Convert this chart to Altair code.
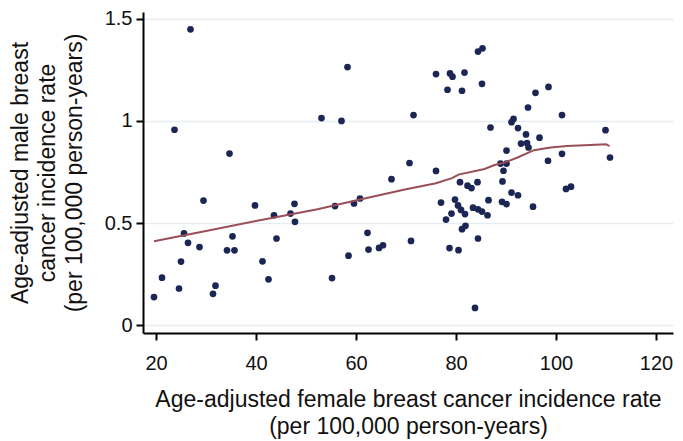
import altair as alt
import pandas as pd

female_rate = [26.9, 23.7, 34.7, 19.6, 21.2, 24.6, 25.0, 25.6, 26.4, 29.5,
               28.7, 31.4, 31.9, 34.2, 35.7, 35.3, 39.8, 41.3, 42.5, 43.6,
               44.1, 46.9, 47.7, 47.8, 55.8, 59.6, 60.8, 67.1, 70.7, 76.0,
               55.2, 58.5, 62.3, 62.5, 64.6, 65.4, 71.0, 77.0, 78.0, 79.1,
               79.8, 80.4, 81.0, 81.8, 80.8, 82.3, 83.1, 84.3, 81.2, 81.9,
               84.4, 78.7, 80.5, 83.8, 83.4, 84.4, 85.2, 86.3, 86.5, 58.3,
               53.1, 57.1, 71.5, 76.0, 78.8, 79.3, 81.7, 78.3, 81.2, 84.4,
               85.3, 85.2, 86.9, 95.9, 98.5, 94.4, 101.2, 91.1, 91.5, 92.4,
               94.0, 96.7, 93.0, 94.2, 94.5, 90.1, 109.9, 110.8, 101.2, 98.4,
               88.9, 90.1, 89.5, 89.3, 102.0, 103.0, 91.1, 92.4, 89.2, 90.1,
               95.4]
male_rate = [1.449, 0.957, 0.84, 0.137, 0.232, 0.179, 0.311, 0.449, 0.403, 0.61,
             0.382, 0.153, 0.193, 0.366, 0.366, 0.435, 0.586, 0.312, 0.224, 0.538,
             0.424, 0.546, 0.594, 0.506, 0.583, 0.596, 0.62, 0.715, 0.794, 0.755,
             0.23, 0.34, 0.452, 0.37, 0.378, 0.391, 0.412, 0.6, 0.517, 0.546,
             0.615, 0.586, 0.564, 0.544, 0.70, 0.683, 0.671, 0.70, 0.47, 0.486,
             0.424, 0.377, 0.367, 0.084, 0.575, 0.567, 0.556, 0.538, 0.612, 1.264,
             1.014, 1.0, 1.029, 1.23, 1.233, 1.217, 1.237, 1.153, 1.148, 1.34,
             1.356, 1.182, 0.968, 1.138, 1.167, 1.066, 1.029, 0.994, 1.01, 0.965,
             0.934, 0.918, 0.889, 0.892, 0.870, 0.855, 0.955, 0.821, 0.839, 0.805,
             0.791, 0.791, 0.756, 0.704, 0.667, 0.678, 0.649, 0.636, 0.604, 0.593,
             0.58]

lowess_x = [19.6, 30.0, 40.0, 52.3, 60.8, 70.0, 76.0, 79.2, 80.5, 85.7,
            87.7, 89.7, 92.3, 95.6, 98.9, 102.2, 106.8, 110.0, 110.7]
lowess_y = [0.411, 0.461, 0.51, 0.567, 0.615, 0.665, 0.695, 0.72, 0.737, 0.765,
            0.784, 0.796, 0.821, 0.857, 0.87, 0.877, 0.882, 0.886, 0.877]

x_ticks = [20, 40, 60, 80, 100, 120]
y_ticks = [0, 0.5, 1, 1.5]

pts = pd.DataFrame({"female": female_rate, "male": male_rate})
fit = pd.DataFrame({"female": lowess_x, "male": lowess_y})

FONT = "Liberation Sans"

x_enc = alt.X(
    "female:Q",
    scale=alt.Scale(domain=[17.4, 123.4], nice=False, zero=False),
    axis=alt.Axis(
        values=x_ticks,
        title=["Age-adjusted female breast cancer incidence rate",
               "(per 100,000 person-years)"],
        grid=False,
        titlePadding=15,
        labelPadding=13,
    ),
)
y_enc = alt.Y(
    "male:Q",
    scale=alt.Scale(domain=[-0.039, 1.534], nice=False, zero=False),
    axis=alt.Axis(
        values=y_ticks,
        title=["Age-adjusted male breast", "cancer incidence rate",
               "(per 100,000 person-years)"],
        grid=True,
        labelExpr="datum.value == 0 ? '0' : datum.value == 1 ? '1' : format(datum.value, '.1f')",
        titlePadding=18,
        labelPadding=4,
    ),
)

points = alt.Chart(pts).mark_circle(size=45, color="#1b2654", opacity=1).encode(
    x=x_enc, y=y_enc
)
line = alt.Chart(fit).mark_line(color="#9a4f58", strokeWidth=2).encode(
    x="female:Q", y="male:Q"
)

chart = (
    alt.layer(points, line)
    .properties(
        width=530,
        height=321,
        autosize=alt.AutoSizeParams(type="none"),
        padding={"left": 135, "top": 4, "right": 2, "bottom": 106},
        background="white",
    )
    .configure_view(stroke=None)
    .configure_axis(
        domainColor="black",
        domainWidth=2,
        tickColor="black",
        tickWidth=2,
        tickSize=7,
        labelFont=FONT,
        labelFontSize=20,
        labelColor="#111111",
        titleFont=FONT,
        titleFontSize=23,
        titleFontWeight="normal",
        titleColor="#111111",
        gridColor="#e6edf1",
        gridWidth=1.5,
        titleLineHeight=27,
    )
)

chart.save("out.html", embed_options={"renderer": "svg", "actions": False})
